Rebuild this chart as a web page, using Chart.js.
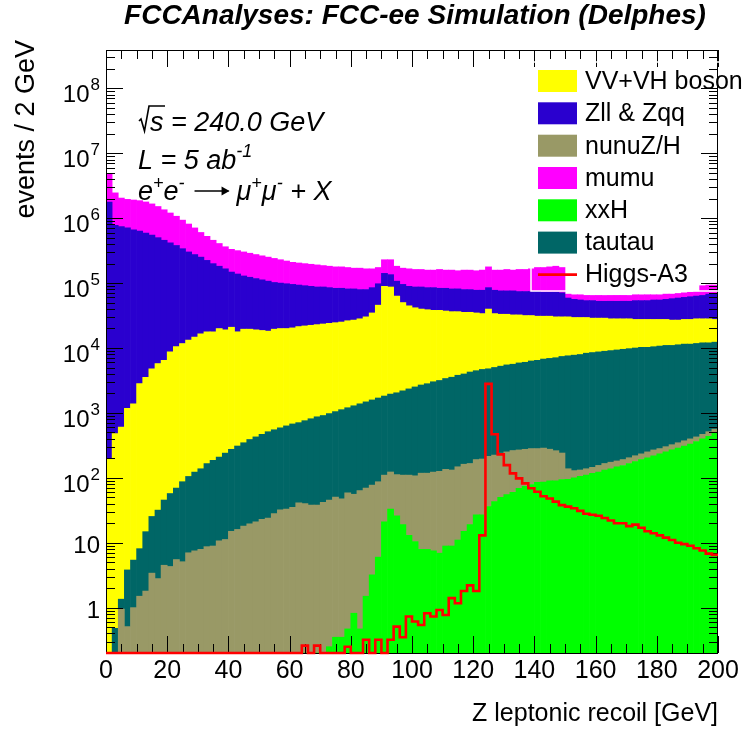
<!DOCTYPE html>
<html>
<head>
<meta charset="utf-8">
<title>Z leptonic recoil</title>
<script src="https://cdn.jsdelivr.net/npm/chart.js@4.4.1/dist/chart.umd.min.js"></script>
<style>
  html, body { margin: 0; padding: 0; background: #fff; }
  #wrap { position: relative; width: 745px; height: 730px; }
</style>
</head>
<body>
<div id="wrap"><canvas id="recoilChart"></canvas></div>
<script>
// events per 2 GeV bin, 100 bins from 0 to 200 GeV
const binWidth = 2;

const xxH = [
  0, 0, 0, 0, 0, 0, 0, 0, 0, 0,
  0, 0, 0, 0, 0, 0, 0, 0, 0, 0,
  0, 0, 0, 0, 0, 0, 0, 0, 0, 0,
  0, 0, 0, 0, 0, 0, 0.25, 0.35, 0.35, 0.47,
  0.82, 0.47, 1.5, 3.2, 6, 21, 33, 26, 19, 13,
  10.4, 7.9, 7.9, 7.5, 6.9, 8.9, 8.9, 11, 15, 19,
  27, 27, 36, 43, 50, 55, 60, 69, 74, 79,
  85, 86, 90, 90, 94, 95, 100, 105, 110, 117,
  123, 132, 138, 148, 155, 166, 178, 191, 204, 219,
  234, 251, 269, 288, 309, 331, 363, 398, 437, 490
];

const nunuZH = [
  0, 0, 0.95, 0.51, 1.0, 1.5, 1.8, 3.4, 2.8, 4.5,
  4.3, 5.5, 5.1, 7.0, 7.5, 7.9, 8.7, 8.9, 10.7, 11.2,
  15, 16, 18, 19.5, 21, 23, 24, 28, 32, 33,
  35, 41, 40, 38, 38, 42, 45, 50, 47, 58,
  55, 63, 68, 74, 81, 89, 90, 86, 91, 97,
  97, 110, 110, 115, 119, 126, 123, 137, 147, 147,
  164, 168, 178, 181, 190, 196, 203, 200, 201, 203,
  197, 201, 186, 172, 147, 43, 29, 27, 28, 28,
  32, 34, 36, 34, 36, 38, 41, 43, 47, 50,
  48, 51, 55, 59, 63, 67, 64, 70, 76, 72
];

const tautau = [
  0, 0.48, 0.4, 3.3, 4.4, 6.6, 13, 22, 29, 41,
  53, 64, 82, 98, 115, 130, 157, 177, 198, 229,
  260, 293, 329, 370, 406, 445, 489, 522, 557, 598,
  641, 667, 719, 775, 833, 870, 931, 997, 1074, 1143,
  1232, 1317, 1410, 1507, 1611, 1710, 1827, 1930, 2078, 2234,
  2405, 2574, 2700, 2897, 3036, 3253, 3416, 3654, 3819, 4100,
  4280, 4480, 4570, 4790, 5010, 5240, 5360, 5620, 5750, 6030,
  6180, 6470, 6640, 6820, 7170, 7450, 7630, 7810, 8180, 8370,
  8560, 8750, 8950, 9150, 9360, 9570, 9780, 10000, 9980, 10200,
  10430, 10660, 10640, 10870, 11110, 11080, 11320, 11560, 11510, 11740
];

const vvVH = [
  200, 478, 602, 1171, 1375, 2810, 3533, 4761, 5722, 6411,
  8652, 10400, 11660, 13080, 14670, 16460, 17620, 17600, 19740, 18820,
  20620, 17470, 19150, 19110, 18630, 18150, 17680, 18950, 19360, 19320,
  19740, 20670, 21120, 21570, 22040, 22530, 23010, 23500, 24000, 25100,
  25630, 26800, 28720, 33090, 44010, 87300, 85150, 61050, 47930, 42320,
  39180, 37120, 36090, 35000, 34860, 33770, 32760, 32510, 31500, 31220,
  30210, 29210, 35030, 28870, 27870, 27620, 26740, 26470, 25600, 25310,
  24450, 24140, 23990, 23120, 22790, 22610, 21750, 21570, 21190, 20330,
  20130, 19930, 19060, 18850, 18630, 18410, 17540, 17310, 17310, 17070,
  16830, 16580, 15950, 15700, 16060, 16060, 16440, 16160, 16160, 15240
];

const zllZqq = [
  1778000, 775800, 740700, 706800, 659300, 628100, 585300, 544800, 495400, 450600,
  408200, 369700, 327100, 288800, 260600, 234600, 206100, 181700, 162000, 146900,
  127000, 120300, 109300, 103500, 98400, 93600, 89000, 82800, 80000, 77800,
  75100, 71900, 69300, 66700, 64200, 63700, 61100, 58600, 58100, 55000,
  54400, 51200, 49200, 50400, 52000, 52100, 47800, 44100, 45400, 44500,
  45400, 47300, 46200, 47100, 45200, 46000, 45000, 45100, 43950, 43900,
  42950, 43740, 45300, 43700, 42750, 42700, 43500, 41770, 42510, 42450,
  43230, 41540, 41500, 42240, 40600, 28680, 26720, 25440, 24190, 24860,
  23640, 23600, 24300, 24250, 24350, 24300, 26160, 26100, 26200, 27410,
  27400, 28690, 30630, 31970, 32710, 34120, 34910, 36380, 39420, 41640
];

const mumu = [
  3119500, 1678500, 1300400, 1241900, 1244800, 1231100, 1189400, 1110000, 1012400, 891900,
  785400, 691300, 594400, 510800, 432500, 351400, 300900, 257600, 225400, 197100,
  183200, 178200, 173200, 165400, 157900, 150800, 144000, 137600, 129100, 121100,
  113400, 110800, 108300, 105900, 103500, 99100, 96900, 94700, 94600, 92500,
  88500, 90400, 86500, 80800, 76100, 87800, 94200, 74800, 74300, 76800,
  75100, 75000, 73400, 73300, 79000, 75300, 77200, 73600, 79100, 79000,
  77300, 80900, 92700, 80800, 82600, 86300, 82600, 88100, 88000, 91800,
  99650, 101300, 105400, 109500, 103000, 8700, 9800, 11100, 10900, 10800,
  12100, 12000, 12100, 12200, 12100, 12000, 12400, 12300, 12400, 11100,
  11100, 11400, 10100, 10300, 10500, 10800, 11000, 26600, 25700, 24100
];

const higgsA3 = [
  0, 0, 0, 0, 0, 0, 0, 0, 0, 0,
  0, 0, 0, 0, 0, 0, 0, 0, 0, 0,
  0, 0, 0, 0, 0, 0, 0, 0, 0, 0,
  0, 0, 0.26, 0, 0.26, 0, 0, 0, 0, 0.25,
  0, 0, 0.32, 0, 0.32, 0, 0.32, 0.51, 0.35, 0.73,
  0.61, 0.54, 0.82, 0.73, 0.92, 0.77, 1.4, 1.17, 1.8, 2.2,
  1.8, 13, 2800, 470, 230, 157, 117, 98, 82, 69,
  61, 52, 48, 43, 38, 36, 34, 31, 28, 27,
  26, 24, 22, 20, 20, 18, 19, 17, 15, 14,
  13, 12, 11, 10, 9.5, 9, 8.2, 7.6, 6.8, 6.5
];

const xTickLabels = ['0', '20', '40', '60', '80', '100', '120', '140', '160', '180', '200'];
const yTickExponents = [0, 1, 2, 3, 4, 5, 6, 7, 8];

const yMin = 0.2;
const yMax = 3.9e8;

const FONT = "'Liberation Sans', Arial, Helvetica, sans-serif";

// bars are stacked bottom-up in this order
const stackOrder = [
  { label: 'xxH',          data: xxH,    color: '#00ff00' },
  { label: 'nunuZ/H',      data: nunuZH, color: '#999966' },
  { label: 'tautau',       data: tautau, color: '#006666' },
  { label: 'VV+VH boson',  data: vvVH,   color: '#ffff00' },
  { label: 'Zll & Zqq',    data: zllZqq, color: '#2a00cf' },
  { label: 'mumu',         data: mumu,   color: '#ff00ff' }
];

const legendOrder = ['VV+VH boson', 'Zll & Zqq', 'nunuZ/H', 'mumu', 'xxH', 'tautau'];

const binCentre = i => binWidth * i + binWidth / 2;

const barSets = stackOrder.map(s => ({
  type: 'bar',
  label: s.label,
  data: s.data.map((v, i) => ({ x: binCentre(i), y: v })),
  backgroundColor: s.color,
  borderWidth: 0,
  barPercentage: 1,
  categoryPercentage: 1,
  stack: 'bkg'
}));

// step line from the low edge of each bin, closed at the last edge;
// empty bins sit on the bottom of the log axis like ROOT draws them
const onLogAxis = v => (v > 0 ? v : yMin);
const higgsPoints = higgsA3.map((v, i) => ({ x: binWidth * i, y: onLogAxis(v) }));
higgsPoints.push({ x: binWidth * higgsA3.length, y: onLogAxis(higgsA3[higgsA3.length - 1]) });

const higgsSet = {
  type: 'line',
  label: 'Higgs-A3',
  data: higgsPoints,
  borderColor: '#ff0000',
  borderWidth: 2.6,
  stepped: 'before',
  pointRadius: 0,
  fill: false,
  clip: { left: 0, top: 0, right: 0, bottom: 2 },
  order: -1
};

function seg(ctx, x1, y1, x2, y2) {
  ctx.beginPath();
  ctx.moveTo(x1, y1);
  ctx.lineTo(x2, y2);
  ctx.stroke();
}

// draws a run of text pieces, each piece may be raised and resized
function richText(ctx, x, y, pieces, style) {
  let cx = x;
  pieces.forEach(p => {
    ctx.font = `${style} ${p.size}px ${FONT}`;
    ctx.fillText(p.t, cx, y - (p.rise || 0));
    cx += ctx.measureText(p.t).width + (p.gap || 0);
  });
  return cx;
}

const rootStyle = {
  id: 'rootStyle',
  beforeDraw(chart) {
    const { ctx, width, height } = chart;
    ctx.save();
    ctx.fillStyle = '#ffffff';
    ctx.fillRect(0, 0, width, height);
    ctx.restore();
  },
  beforeDatasetDraw(chart, args) {
    if (args.meta.type !== 'line') return;
    const { ctx, chartArea: a, scales: { x, y } } = chart;
    ctx.save();
    ctx.strokeStyle = '#000';
    ctx.lineWidth = 1;
    ctx.strokeRect(a.left + 0.5, a.top + 0.5, a.right - a.left - 1, a.bottom - a.top);

    // x ticks: major every 20 GeV, minor every 5 GeV, top and bottom
    for (let v = 0; v <= 200; v += 5) {
      const px = Math.round(x.getPixelForValue(v)) + 0.5;
      const len = v % 20 === 0 ? 17 : 9;
      seg(ctx, px, a.bottom, px, a.bottom - len);
      seg(ctx, px, a.top, px, a.top + len);
    }
    // y ticks: decades and 2..9 subdivisions, left and right
    for (let e = -1; e <= 8; e++) {
      for (let m = 1; m <= 9; m++) {
        const v = m * Math.pow(10, e);
        if (v < y.min || v > y.max) continue;
        const py = Math.round(y.getPixelForValue(v)) + 0.5;
        const len = m === 1 ? 17 : 9;
        seg(ctx, a.left, py, a.left + len, py);
        seg(ctx, a.right, py, a.right - len, py);
      }
    }
    ctx.restore();
  },
  afterDatasetsDraw(chart) {
    const { ctx, chartArea: a, scales: { x, y } } = chart;
    ctx.save();
    ctx.fillStyle = '#000';

    // x tick labels
    ctx.font = `25px ${FONT}`;
    ctx.textAlign = 'center';
    ctx.textBaseline = 'alphabetic';
    xTickLabels.forEach(lbl => {
      ctx.fillText(lbl, x.getPixelForValue(Number(lbl)), a.bottom + 25);
    });

    // y tick labels as powers of ten
    ctx.textAlign = 'right';
    yTickExponents.forEach(n => {
      const py = y.getPixelForValue(Math.pow(10, n));
      if (n === 0 || n === 1) {
        ctx.font = `24px ${FONT}`;
        ctx.fillText(n === 0 ? '1' : '10', a.left - 6, py + 10);
      } else {
        ctx.font = `17px ${FONT}`;
        const expW = ctx.measureText(String(n)).width;
        ctx.fillText(String(n), a.left - 6, py + 2);
        ctx.font = `24px ${FONT}`;
        ctx.fillText('10', a.left - 6 - expW - 1, py + 14);
      }
    });

    // axis titles
    ctx.font = `25px ${FONT}`;
    ctx.textAlign = 'right';
    ctx.fillText('Z leptonic recoil [GeV]', a.right, 721);
    ctx.save();
    ctx.translate(34, 40);
    ctx.rotate(-Math.PI / 2);
    ctx.font = `27px ${FONT}`;
    ctx.textAlign = 'right';
    ctx.fillText('events / 2 GeV', 0, 0);
    ctx.restore();

    // title
    ctx.font = `bold italic 28px ${FONT}`;
    ctx.textAlign = 'center';
    ctx.fillText('FCCAnalyses: FCC-ee Simulation (Delphes)', 415, 24);

    // annotations
    ctx.textAlign = 'left';
    ctx.lineWidth = 1.6;
    ctx.strokeStyle = '#000';
    ctx.beginPath();
    ctx.moveTo(139, 121);
    ctx.lineTo(141, 119);
    ctx.lineTo(144.5, 131);
    ctx.lineTo(149, 106);
    ctx.lineTo(165, 106);
    ctx.stroke();
    richText(ctx, 150, 131, [{ t: 's = 240.0 GeV', size: 27 }], 'italic');
    richText(ctx, 138, 169, [
      { t: 'L = 5 ab', size: 27 },
      { t: '-1', size: 18, rise: 12 }
    ], 'italic');
    const afterE = richText(ctx, 138, 200, [
      { t: 'e', size: 27 },
      { t: '+', size: 18, rise: 11 },
      { t: 'e', size: 27 },
      { t: '-', size: 18, rise: 11 }
    ], 'italic');
    // long arrow drawn as a line with a head
    ctx.lineWidth = 1.6;
    seg(ctx, afterE + 10, 191, afterE + 44, 191);
    ctx.beginPath();
    ctx.moveTo(afterE + 45, 191);
    ctx.lineTo(afterE + 37, 186.5);
    ctx.lineTo(afterE + 37, 195.5);
    ctx.closePath();
    ctx.fill();
    richText(ctx, afterE + 52, 200, [
      { t: '\u03bc', size: 27 },
      { t: '+', size: 18, rise: 11 },
      { t: '\u03bc', size: 27 },
      { t: '-', size: 18, rise: 11 },
      { t: ' + X', size: 27 }
    ], 'italic');

    // legend
    ctx.strokeStyle = '#ffffff';
    ctx.lineWidth = 1.5;
    ctx.strokeRect(531, 62, 230, 229);
    const rowY = [81, 113.3, 145.7, 178, 210.3, 242.6, 274.6];
    ctx.font = `25px ${FONT}`;
    ctx.textBaseline = 'middle';
    legendOrder.forEach((name, k) => {
      const s = stackOrder.find(d => d.label === name);
      ctx.fillStyle = s.color;
      ctx.fillRect(538, rowY[k] - 11, 39, 22);
      ctx.fillStyle = '#000';
      ctx.fillText(name, 585, rowY[k] + 1);
    });
    ctx.strokeStyle = '#ff0000';
    ctx.lineWidth = 2.6;
    seg(ctx, 538, rowY[6], 577, rowY[6]);
    ctx.fillStyle = '#000';
    ctx.fillText('Higgs-A3', 585, rowY[6] + 1);

    ctx.restore();
  }
};

new Chart(document.getElementById('recoilChart'), {
  type: 'bar',
  data: { datasets: [...barSets, higgsSet] },
  options: {
    responsive: true,
    maintainAspectRatio: false,
    animation: false,
    events: [],
    layout: { padding: { left: 106, top: 50, right: 27, bottom: 77 } },
    plugins: { legend: { display: false }, tooltip: { enabled: false } },
    scales: {
      x: { type: 'linear', min: 0, max: 200, offset: false, stacked: true, display: false },
      y: { type: 'logarithmic', min: yMin, max: yMax, stacked: true, display: false }
    }
  },
  plugins: [rootStyle]
});
</script>
</body>
</html>
